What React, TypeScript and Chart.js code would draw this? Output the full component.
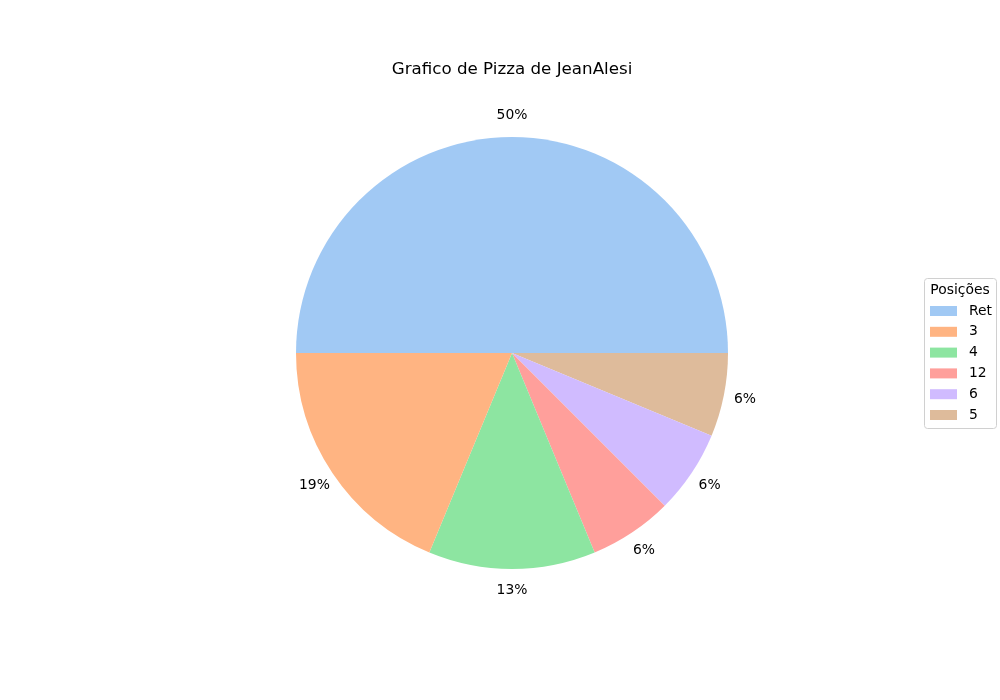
import React, { useRef, useEffect } from "react";
import { Chart, registerables } from "chart.js";

Chart.register(...registerables);

const positions = ["Ret", "3", "4", "12", "6", "5"];
const counts = [8, 3, 2, 1, 1, 1];
const colors = ["#a1c9f4", "#ffb482", "#8de5a1", "#ff9f9b", "#d0bbff", "#debb9b"];

const FONT = "DejaVu Sans, sans-serif";

// matplotlib goes counter-clockwise from 3 o'clock; Chart.js goes clockwise, so feed it reversed
const revLabels = [...positions].reverse();
const revCounts = [...counts].reverse();
const revColors = [...colors].reverse();

const decorations = {
  id: "decorations",
  afterDraw(chart: Chart) {
    const ctx = chart.ctx;
    const meta = chart.getDatasetMeta(0);
    const total = revCounts.reduce((a, b) => a + b, 0);
    ctx.save();
    ctx.fillStyle = "#000";
    ctx.textAlign = "center";
    ctx.textBaseline = "middle";
    ctx.font = `16.7px ${FONT}`;
    ctx.fillText("Grafico de Pizza de JeanAlesi", 512, 70);

    ctx.font = `13.9px ${FONT}`;
    meta.data.forEach((arc: any, i: number) => {
      const mid = (arc.startAngle + arc.endAngle) / 2;
      const r = arc.outerRadius * 1.1;
      const pct = Math.round((revCounts[i] / total) * 100);
      ctx.fillText(pct + "%", arc.x + Math.cos(mid) * r, arc.y + Math.sin(mid) * r);
    });

    // legend box
    ctx.strokeStyle = "#d0d0d0";
    ctx.fillStyle = "rgba(255,255,255,0.8)";
    ctx.lineWidth = 1;
    ctx.beginPath();
    ctx.roundRect(924.5, 278.5, 72, 150, 3);
    ctx.fill();
    ctx.stroke();
    ctx.fillStyle = "#000";
    ctx.fillText("Posições", 960, 290);
    ctx.textAlign = "left";
    positions.forEach((p, i) => {
      const y = 311 + i * 20.8;
      ctx.fillStyle = colors[i];
      ctx.fillRect(930, y - 5, 27, 10);
      ctx.fillStyle = "#000";
      ctx.fillText(p, 969, y);
    });
    ctx.restore();
  },
};

const App = () => {
  const canvasRef = useRef<HTMLCanvasElement>(null);

  useEffect(() => {
    if (!canvasRef.current) return;
    const chart = new Chart(canvasRef.current, {
      type: "pie",
      data: {
        labels: revLabels,
        datasets: [{ data: revCounts, backgroundColor: revColors, borderWidth: 0 }],
      },
      options: {
        responsive: false,
        animation: false,
        rotation: 90,
        layout: { padding: { top: 137, bottom: 131, left: 296, right: 272 } },
        plugins: { legend: { display: false }, title: { display: false }, tooltip: { enabled: false } },
      },
      plugins: [decorations],
    });
    return () => {
      chart.destroy();
    };
  }, []);

  return (
    <div style={{ position: "absolute", left: 0, top: 0, width: 1000, height: 700, background: "#fff" }}>
      <canvas ref={canvasRef} width={1000} height={700} />
    </div>
  );
};

export default App;
